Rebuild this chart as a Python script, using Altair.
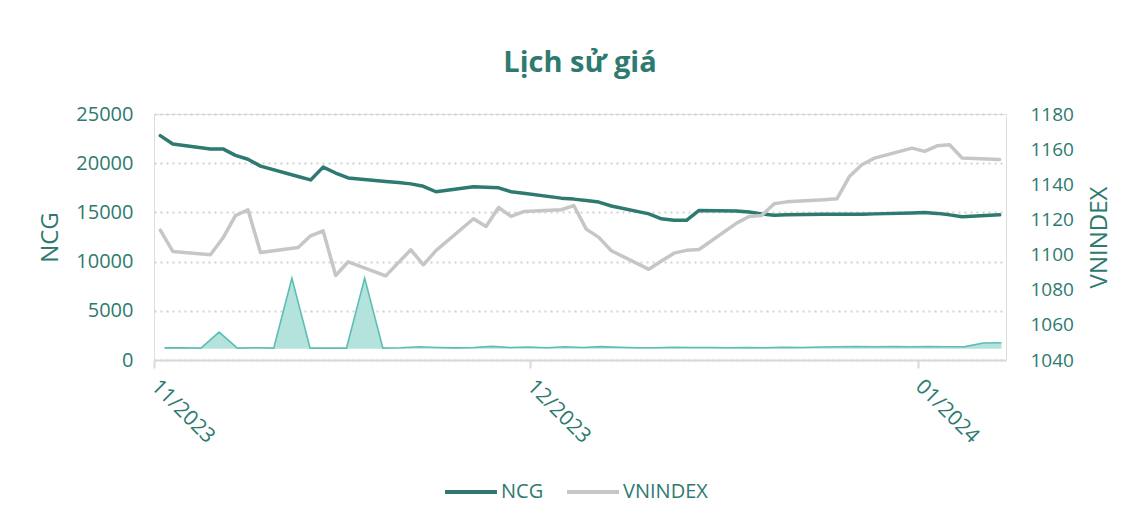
import altair as alt
import pandas as pd

# ---------------- data ----------------
dates = [
    "2023-11-02", "2023-11-03", "2023-11-06", "2023-11-07", "2023-11-08", "2023-11-09", "2023-11-10",
    "2023-11-13", "2023-11-14", "2023-11-15", "2023-11-16", "2023-11-17",
    "2023-11-20", "2023-11-21", "2023-11-22", "2023-11-23", "2023-11-24",
    "2023-11-27", "2023-11-28", "2023-11-29", "2023-11-30", "2023-12-01",
    "2023-12-04", "2023-12-05", "2023-12-06", "2023-12-07", "2023-12-08",
    "2023-12-11", "2023-12-12", "2023-12-13", "2023-12-14", "2023-12-15",
    "2023-12-18", "2023-12-19", "2023-12-20", "2023-12-21", "2023-12-22",
    "2023-12-25", "2023-12-26", "2023-12-27", "2023-12-28", "2023-12-29",
    "2024-01-01", "2024-01-02", "2024-01-03", "2024-01-04", "2024-01-05", "2024-01-08",
]

ncg = [
    22800, 21950, 21450, 21450, 20800, 20400, 19700,
    18650, 18300, 19600, 19000, 18500,
    18150, 18050, 17900, 17650, 17100,
    17600, 17550, 17500, 17100, 16950,
    16450, 16350, 16200, 16050, 15650,
    14850, 14350, 14200, 14200, 15200,
    15150, 15050, 14850, 14700, 14750,
    14800, 14800, 14800, 14800, 14850,
    14950, 15000, 14900, 14750, 14550, 14750,
]

vnindex = [
    1113.9, 1101.8, 1099.9, 1109.4, 1122.2, 1125.5, 1101.2,
    1104.0, 1110.7, 1113.5, 1088.1, 1095.9,
    1087.9, 1095.4, 1102.7, 1094.2, 1102.2,
    1120.4, 1116.0, 1126.8, 1121.7, 1124.5,
    1125.5, 1127.9, 1114.5, 1109.8, 1102.2,
    1091.6, 1096.3, 1100.8, 1102.4, 1102.9,
    1117.9, 1121.7, 1122.3, 1128.9, 1130.0,
    1131.2, 1131.7, 1144.4, 1151.1, 1154.9,
    1160.6, 1158.7, 1161.9, 1162.5, 1154.9, 1154.1,
]

# trading volume (hidden axis, relative units), drawn on its own index axis
volume = [
    0.04, 0.05, 0.03, 0.75, 0.03, 0.05, 0.03, 3.16, 0.03, 0.03,
    0.03, 3.16, 0.03, 0.05, 0.09, 0.06, 0.04, 0.06, 0.11, 0.06,
    0.08, 0.05, 0.09, 0.06, 0.10, 0.07, 0.05, 0.05, 0.07, 0.06,
    0.06, 0.05, 0.06, 0.05, 0.07, 0.06, 0.08, 0.09, 0.10, 0.09,
    0.10, 0.09, 0.10, 0.09, 0.10, 0.26, 0.27,
]

series_names = ["NCG", "VNINDEX"]
left_ticks = [0, 5000, 10000, 15000, 20000, 25000]
right_ticks = [1040, 1060, 1080, 1100, 1120, 1140, 1160, 1180]

# ---------------- styling ----------------
TEAL = "#2e7a70"
GRAY = "#c6c6c6"
FILL = "#b4e3de"
EDGE = "#5cbdb3"
FONT = "Open Sans"

df = pd.DataFrame({"date": dates, "NCG": ncg, "VNINDEX": vnindex})
vol_df = pd.DataFrame({"idx": list(range(len(volume))), "vol": volume})

x_domain = [
    alt.DateTime(year=2023, month=11, date=1, hours=12, utc=True),
    alt.DateTime(year=2024, month=1, date=8, hours=12, utc=True),
]
x_ticks = [
    alt.DateTime(year=2023, month=11, date=1, hours=12, utc=True),
    alt.DateTime(year=2023, month=12, date=1, hours=12, utc=True),
    alt.DateTime(year=2024, month=1, date=1, hours=12, utc=True),
]

color_scale = alt.Scale(domain=series_names, range=[TEAL, GRAY])
legend = alt.Legend(
    title=None, orient="none", direction="horizontal", legendX=289, legendY=350, padding=0,
    symbolType="stroke", symbolSize=2700, symbolStrokeWidth=4,
    labelFont=FONT, labelFontSize=20, labelColor=TEAL, labelOffset=2,
    columnPadding=15,
)

area = alt.Chart(vol_df).mark_area(
    color=FILL, opacity=1, line={"color": EDGE, "strokeWidth": 1.6}
).encode(
    x=alt.X("idx:Q", scale=alt.Scale(domain=[-0.58, 46.25], nice=False, zero=False), axis=None),
    y=alt.Y("vol:Q", scale=alt.Scale(domain=[-0.5, 10.5], nice=False, zero=False), axis=None),
    y2=alt.datum(0),
)

ncg_line = alt.Chart(df).transform_calculate(series="'NCG'").mark_line(
    strokeWidth=3.5, strokeCap="round", strokeJoin="round"
).encode(
    x=alt.X("date:T", scale=alt.Scale(type="utc", domain=x_domain, nice=False),
            axis=alt.Axis(values=x_ticks, labelExpr="utcFormat(datum.value, '%m/%Y')",
                          title=None, grid=False, domain=True, domainColor="#d9d9d9", domainWidth=2,
                          ticks=True, tickColor="#d9d9d9", tickWidth=2, tickSize=8,
                          labelAngle=45, labelAlign="left", labelBaseline="middle", labelPadding=15,
                          labelFont=FONT, labelFontSize=21, labelColor=TEAL)),
    y=alt.Y("NCG:Q", scale=alt.Scale(domain=[0, 25000], nice=False),
            axis=alt.Axis(orient="left", values=left_ticks, format="d", title="NCG", grid=True,
                          gridColor="#d2d2d2", gridDash=[2, 4], gridWidth=2,
                          domain=False, ticks=False, labelPadding=21,
                          labelFont=FONT, labelFontSize=20, labelColor=TEAL,
                          titleFont=FONT, titleFontSize=24, titleFontWeight="normal",
                          titleColor=TEAL, titlePadding=13)),
    color=alt.Color("series:N", scale=color_scale, legend=legend),
)

vn_line = alt.Chart(df).transform_calculate(series="'VNINDEX'").mark_line(
    strokeWidth=3.5, strokeCap="round", strokeJoin="round"
).encode(
    x=alt.X("date:T", scale=alt.Scale(type="utc", domain=x_domain, nice=False), axis=None),
    y=alt.Y("VNINDEX:Q", scale=alt.Scale(domain=[1040, 1180], nice=False, zero=False),
            axis=alt.Axis(orient="right", values=right_ticks, format="d", title="VNINDEX", grid=False,
                          domain=False, ticks=False, labelPadding=24,
                          labelFont=FONT, labelFontSize=19, labelColor=TEAL,
                          titleFont=FONT, titleFontSize=24, titleFontWeight="normal",
                          titleColor=TEAL, titlePadding=14, titleAngle=270, titleBaseline="top")),
    color=alt.Color("series:N", scale=color_scale, legend=legend),
)

chart = alt.layer(area, ncg_line, vn_line).resolve_scale(
    x="independent", y="independent"
).properties(
    width=852, height=246,
    title=alt.Title("Lịch sử giá", font=FONT, fontSize=29, fontWeight="bold", color=TEAL,
                    anchor="middle", frame="group", offset=26),
    padding={"left": 146, "top": 106, "right": 125, "bottom": 158},
    autosize=alt.AutoSizeParams(type="none"),
).configure_view(stroke=None).configure(background="white")

chart.save("out.html", embed_options={"renderer": "svg", "actions": False})
